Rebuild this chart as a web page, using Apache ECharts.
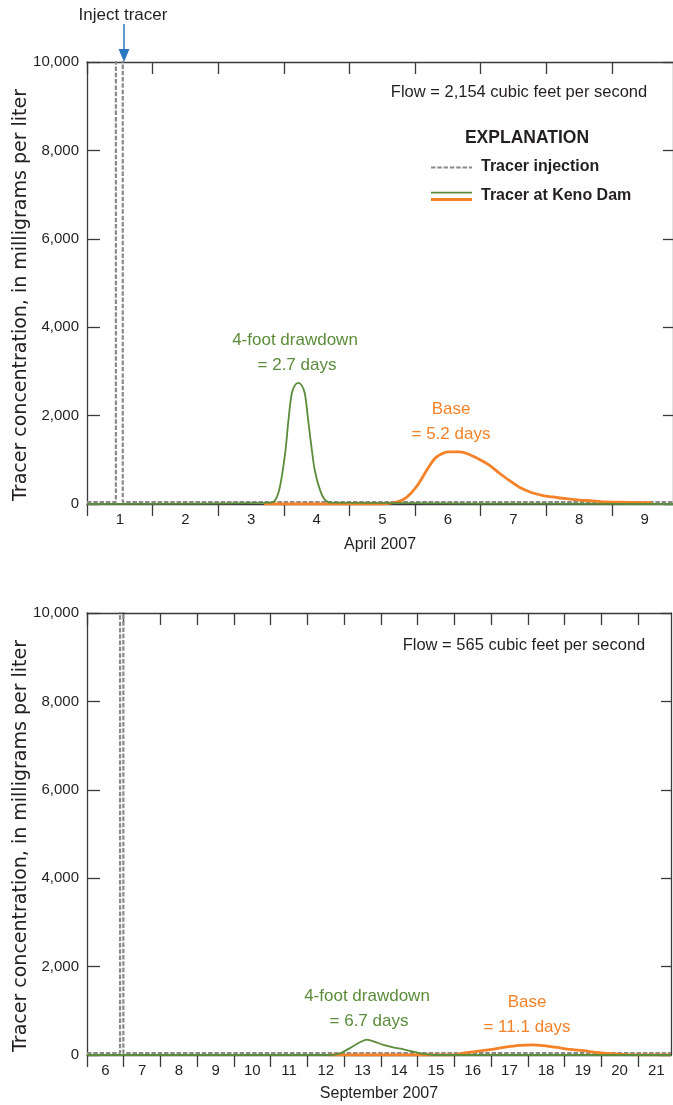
<!DOCTYPE html>
<html>
<head>
<meta charset="utf-8">
<script src="https://cdn.jsdelivr.net/npm/echarts@6/dist/echarts.min.js"></script>
<style>
  html, body { margin: 0; padding: 0; background: #fff; }
  #chart { width: 673px; height: 1105px; }
</style>
</head>
<body>
<div id="chart"></div>
<script>
// April 2007 run, x = days after April 1 00:00
var aprInjX = [0, 0.44, 0.44, 0.545, 0.545, 8.93];
var aprInjY = [45, 45, 13000, 13000, 45, 45];
var aprDrawX = [0, 2.79, 2.87, 2.94, 3.02, 3.07, 3.12, 3.17, 3.22, 3.27, 3.32, 3.37, 3.42, 3.47, 3.55, 3.63, 3.73, 8.93];
var aprDrawY = [0, 30, 90, 390, 1150, 1900, 2500, 2690, 2740, 2690, 2500, 1900, 1300, 770, 320, 90, 30, 0];
var aprBaseX = [2.7, 4.46, 4.72, 4.87, 5.02, 5.18, 5.30, 5.40, 5.50, 5.68, 5.81, 5.99, 6.14, 6.29, 6.44, 6.59, 6.77, 6.95, 7.10, 7.30, 7.51, 7.71, 7.91, 8.12, 8.57, 8.62];
var aprBaseY = [0, 0, 40, 150, 390, 770, 1030, 1130, 1180, 1180, 1130, 1000, 870, 690, 530, 380, 260, 190, 160, 120, 90, 70, 45, 40, 30, 0];
var aprDayTicks = [0, 1, 2, 3, 4, 5, 6, 7, 8];
var aprDayLabels = [1, 2, 3, 4, 5, 6, 7, 8, 9];

// September 2007 run, x = days after September 6 00:00
var sepInjX = [0, 0.9, 0.9, 0.99, 0.99, 15.9];
var sepInjY = [45, 45, 13000, 13000, 45, 45];
var sepDrawX = [0, 6.62, 6.89, 7.17, 7.39, 7.62, 7.80, 8.07, 8.34, 8.62, 8.89, 9.16, 9.43, 15.9];
var sepDrawY = [0, 0, 36, 160, 270, 347, 310, 227, 172, 127, 75, 23, 0, 0];
var sepBaseX = [6.6, 9.98, 10.3, 10.61, 10.97, 11.34, 11.79, 12.15, 12.42, 12.79, 13.15, 13.51, 13.88, 14.24, 14.6, 14.78, 15.9];
var sepBaseY = [0, 0, 50, 82, 120, 172, 218, 227, 211, 172, 127, 98, 59, 30, 14, 5, 0];
var sepDayTicks = [0, 1, 2, 3, 4, 5, 6, 7, 8, 9, 10, 11, 12, 13, 14, 15];
var sepDayLabels = [6, 7, 8, 9, 10, 11, 12, 13, 14, 15, 16, 17, 18, 19, 20, 21];

var FONT = 'Liberation Sans, Arial, sans-serif';
var INK = '#231f20';
var GREEN = '#5b8c3a';
var ORANGE = '#f58229';
var GRAY = '#8a8a8a';
var BLUE = '#2a78c2';

function pairs(xs, ys) {
  return xs.map(function (x, i) { return [x, ys[i]]; });
}
function commas(v) {
  return String(v).replace(/\B(?=(\d{3})+(?!\d))/g, ',');
}

var axisLine = { show: true, onZero: false, lineStyle: { color: '#3a3a3a', width: 1.3 } };
var tickLine = { color: '#3a3a3a', width: 1.3 };

function xAxes(gi, maxX, ticks, labels, name, gap) {
  var labelAt = ticks.map(function (t) { return t + 0.5; });
  return [
    {
      type: 'value', gridIndex: gi, position: 'bottom', min: 0, max: maxX,
      axisLine: axisLine,
      axisTick: { show: true, inside: false, length: 12, customValues: ticks, lineStyle: tickLine },
      axisLabel: {
        show: true, customValues: labelAt, margin: 8,
        fontFamily: FONT, fontSize: 15, color: INK,
        formatter: function (v) { return String(labels[Math.floor(v)]); }
      },
      splitLine: { show: false },
      name: name, nameLocation: 'middle', nameGap: gap, nameMoveOverlap: false,
      nameTextStyle: { fontFamily: FONT, fontSize: 16, color: INK }
    },
    {
      type: 'value', gridIndex: gi, position: 'top', min: 0, max: maxX,
      axisLine: axisLine,
      axisTick: { show: true, inside: true, length: 12, customValues: ticks, lineStyle: tickLine },
      axisLabel: { show: false },
      splitLine: { show: false }
    }
  ];
}

function yAxes(gi) {
  return [
    {
      type: 'value', gridIndex: gi, position: 'left', min: 0, max: 10000, interval: 2000,
      axisLine: axisLine,
      axisTick: { show: true, inside: true, length: 13, lineStyle: tickLine },
      axisLabel: { margin: 8, fontFamily: FONT, fontSize: 15, color: INK, formatter: commas },
      splitLine: { show: false },
      name: 'Tracer concentration, in milligrams per liter',
      nameLocation: 'middle', nameGap: 56, nameRotate: 90, nameMoveOverlap: false,
      nameTextStyle: { fontFamily: 'DejaVu Sans, sans-serif', fontSize: 19, color: INK, padding: [0, 24, 0, 0] }
    },
    {
      type: 'value', gridIndex: gi, position: 'right', min: 0, max: 10000, interval: 2000,
      axisLine: axisLine,
      axisTick: { show: true, inside: true, length: 10, lineStyle: tickLine },
      axisLabel: { show: false },
      splitLine: { show: false }
    }
  ];
}

function runSeries(gi, inj, draw, base) {
  return [
    {
      type: 'line', xAxisIndex: gi * 2, yAxisIndex: gi * 2, data: inj, symbol: 'none', z: 1,
      lineStyle: { color: GRAY, width: 2.2, type: [4.5, 1.8] }
    },
    {
      type: 'line', xAxisIndex: gi * 2, yAxisIndex: gi * 2, data: base, symbol: 'none', z: 2,
      smooth: 0.3, lineStyle: { color: ORANGE, width: 2.8 }
    },
    {
      type: 'line', xAxisIndex: gi * 2, yAxisIndex: gi * 2, data: draw, symbol: 'none', z: 3,
      smooth: gi === 0 ? 0.3 : 0.15, lineStyle: { color: GREEN, width: 1.8 }
    }
  ];
}

function txt(text, x, y, color, size, weight, align) {
  return {
    type: 'text', z: 10,
    style: {
      text: text, x: x, y: y, fill: color,
      font: (weight || 'normal') + ' ' + size + 'px ' + FONT,
      align: align || 'center', verticalAlign: 'middle',
      textAlign: align || 'center', textVerticalAlign: 'middle'
    }
  };
}

var chart = echarts.init(document.getElementById('chart'));
chart.setOption({
  animation: false,
  backgroundColor: '#fff',
  grid: [
    { left: 87, top: 62, width: 586, height: 442, containLabel: false, outerBoundsMode: 'none' },
    { left: 87, top: 613, width: 584, height: 442, containLabel: false, outerBoundsMode: 'none' }
  ],
  xAxis: xAxes(0, 8.93, aprDayTicks, aprDayLabels, 'April 2007', 33)
    .concat(xAxes(1, 15.9, sepDayTicks, sepDayLabels, 'September 2007', 31)),
  yAxis: yAxes(0).concat(yAxes(1)),
  series: runSeries(0, pairs(aprInjX, aprInjY), pairs(aprDrawX, aprDrawY), pairs(aprBaseX, aprBaseY))
    .concat(runSeries(1, pairs(sepInjX, sepInjY), pairs(sepDrawX, sepDrawY), pairs(sepBaseX, sepBaseY))),
  graphic: [
    txt('Inject tracer', 123, 15, INK, 17),
    { type: 'line', z: 10, shape: { x1: 124, y1: 24, x2: 124, y2: 52 }, style: { stroke: BLUE, lineWidth: 1.5 } },
    { type: 'polygon', z: 10, shape: { points: [[118.5, 49], [129.5, 49], [124, 62]] }, style: { fill: BLUE } },

    txt('Flow = 2,154 cubic feet per second', 519, 92, INK, 16.5),
    txt('EXPLANATION', 527, 138, INK, 17.5, 'bold'),
    { type: 'line', z: 10, shape: { x1: 431, y1: 167.5, x2: 472, y2: 167.5 }, style: { stroke: GRAY, lineWidth: 2, lineDash: [4.5, 1.8] } },
    txt('Tracer injection', 481, 167, INK, 16, 'bold', 'left'),
    { type: 'line', z: 10, shape: { x1: 431, y1: 192.7, x2: 472, y2: 192.7 }, style: { stroke: GREEN, lineWidth: 1.8 } },
    { type: 'line', z: 10, shape: { x1: 431, y1: 199.5, x2: 472, y2: 199.5 }, style: { stroke: ORANGE, lineWidth: 2.8 } },
    txt('Tracer at Keno Dam', 481, 196, INK, 16, 'bold', 'left'),

    txt('4-foot drawdown', 295, 340, GREEN, 17),
    txt('= 2.7 days', 297, 365, GREEN, 17),
    txt('Base', 451, 409, ORANGE, 17),
    txt('= 5.2 days', 451, 434, ORANGE, 17),

    txt('Flow = 565 cubic feet per second', 524, 645, INK, 16.5),
    txt('4-foot drawdown', 367, 996, GREEN, 17),
    txt('= 6.7 days', 369, 1021, GREEN, 17),
    txt('Base', 527, 1002, ORANGE, 17),
    txt('= 11.1 days', 527, 1027, ORANGE, 17)
  ]
});
</script>
</body>
</html>
